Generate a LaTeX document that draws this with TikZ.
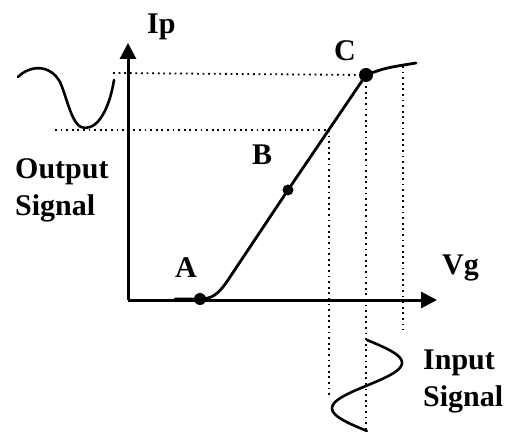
\documentclass[tikz,border=0pt]{standalone}
\usepackage{fontspec}
\setmainfont{Liberation Serif}
\usetikzlibrary{arrows.meta}

\begin{document}
\begin{tikzpicture}[x=1pt, y=-1pt,
    axis/.style={line width=3pt, -{Triangle[length=16pt, width=16pt]}},
    trace/.style={line width=2.8pt, line cap=round, line join=round},
    guide/.style={line width=1.8pt, dash pattern=on 1.8pt off 3.8pt},
    dot/.style={circle, fill=black, inner sep=0pt, minimum size=12pt},
    lbl/.style={font=\bfseries\fontsize{30}{37}\selectfont, inner sep=0pt},
]
\useasboundingbox (0,0) rectangle (508,435);

% Axes
\coordinate (O) at (128,300);
\coordinate (ytip) at (128,43);
\coordinate (xtip) at (437,300);
\draw[axis] (O) -- (ytip);
\draw[axis] (O) -- (xtip);
\node[lbl, anchor=base west] (Ip) at (147,34) {Ip};
\node[lbl, anchor=base west] (Vg) at (442,275) {Vg};

% Operating points
\node[dot] (A) at (200,299) {};
\node[dot, minimum size=11pt] (B) at (288,190) {};
\node[dot, minimum size=14pt] (C) at (366,75) {};
\coordinate (P) at (329,130);
\coordinate (S) at (403,66);

% Transfer curve
\draw[trace] (175,299) -- (A.center)
    .. controls (212,299) and (218,294) .. (226,283)
    -- (B.center) -- (C.center)
    .. controls (385,68) .. (416,63);

\node[lbl, anchor=base west] (lblA) at (175,278) {A};
\node[lbl, anchor=base west] (lblB) at (252,165) {B};
\node[lbl, anchor=base west] (lblC) at (334,61) {C};

% Projection lines
\coordinate (hC) at (113,73);
\coordinate (hP) at (55,130);
\draw[guide] (hC) -- (C.center);
\draw[guide] (hP) -- (P);
\coordinate (vP) at (329,395);
\coordinate (vC) at (366,432);
\coordinate (vS) at (403,330);
\draw[guide] (P) -- (vP);
\draw[guide] (C.center) -- (vC);
\draw[guide] (S) -- (vS);

% Output signal
\draw[trace, line width=2.6pt] (18,77) .. controls (30,65) and (50,64) .. (60,82)
    .. controls (68,100) and (72,128) .. (85,128)
    .. controls (100,128) and (110,105) .. (114,80);
\node[lbl, anchor=north west, align=left] (outsig) at (15,158) {Output\\Signal};

% Input signal
\draw[trace, line width=2.6pt, domain=0:1, samples=60, variable=\t]
    plot ({367+35*sin(360*\t)}, {340+91*\t});
\node[lbl, anchor=north west, align=left] (insig) at (423,350) {Input\\Signal};

\end{tikzpicture}
\end{document}
